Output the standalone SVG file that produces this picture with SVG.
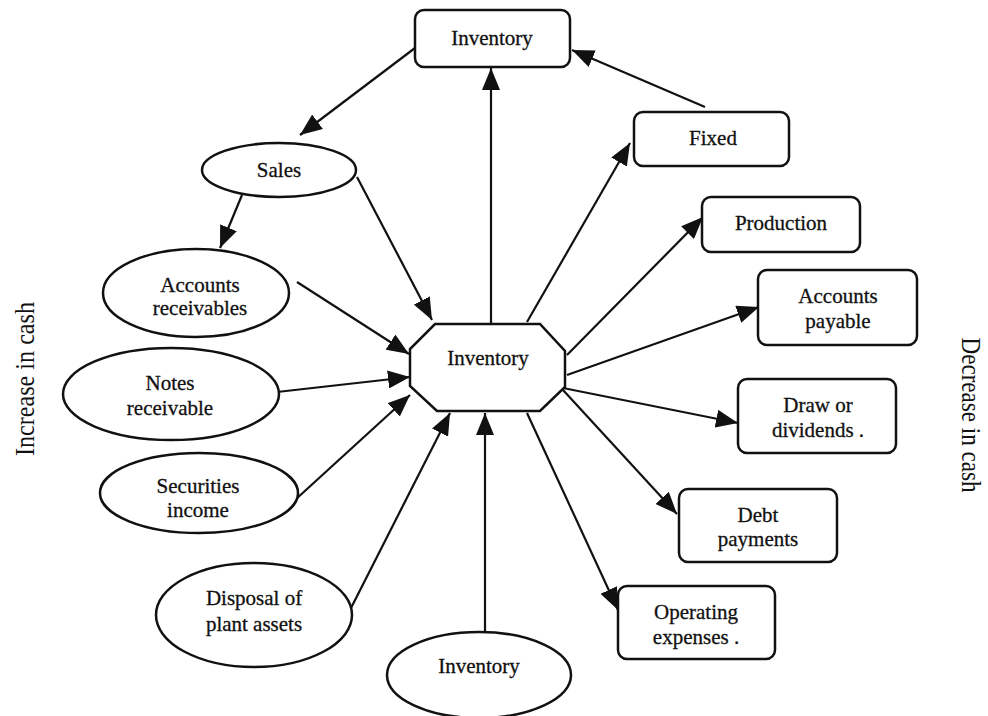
<svg xmlns="http://www.w3.org/2000/svg" width="988" height="716" viewBox="0 0 988 716">
<style>
.box{fill:#fff;stroke:#111;stroke-width:2.5}
.ell{fill:#fff;stroke:#111;stroke-width:2.5}
.t{font-family:"Liberation Serif","Times New Roman",serif;font-size:21px;fill:#111;text-anchor:middle;stroke:#111;stroke-width:0.3}
.side{font-family:"Liberation Serif","Times New Roman",serif;font-size:27px;fill:#111;text-anchor:middle}
.c line{stroke:#111;stroke-width:2.2;marker-end:url(#ah)}
</style>
<defs>
<marker id="ah" viewBox="0 0 22 18" refX="22" refY="9" markerWidth="22" markerHeight="18" markerUnits="userSpaceOnUse" orient="auto">
<path d="M0,0 L22,9 L0,18 z" fill="#111"/>
</marker>
</defs>
<rect width="988" height="716" fill="#fff"/>
<g class="c" id="connectors">
<line x1="415" y1="48" x2="300" y2="135"/>
<line x1="491" y1="324" x2="491" y2="68"/>
<line x1="705" y1="107" x2="572" y2="50"/>
<line x1="527" y1="322" x2="630" y2="143"/>
<line x1="242" y1="195" x2="220" y2="248"/>
<line x1="357" y1="177" x2="432" y2="320"/>
<line x1="297" y1="282" x2="409" y2="354"/>
<line x1="277" y1="392" x2="410" y2="377"/>
<line x1="295" y1="500" x2="410" y2="395"/>
<line x1="350" y1="610" x2="450" y2="413"/>
<line x1="485" y1="632" x2="485" y2="413"/>
<line x1="567" y1="355" x2="703" y2="217"/>
<line x1="567" y1="375" x2="759" y2="307"/>
<line x1="563" y1="388" x2="738" y2="423"/>
<line x1="563" y1="390" x2="677" y2="514"/>
<line x1="527" y1="413" x2="618" y2="610"/>
</g>
<g id="inv-top"><rect class="box" x="415" y="10" width="155" height="57" rx="9"/><text class="t" x="492" y="45">Inventory</text></g>
<g id="fixed"><rect class="box" x="634" y="112" width="155" height="54" rx="9"/><text class="t" x="713" y="145">Fixed</text></g>
<g id="production"><rect class="box" x="702" y="197" width="158" height="55" rx="9"/><text class="t" x="781" y="230">Production</text></g>
<g id="payable"><rect class="box" x="758" y="270" width="159" height="75" rx="9"/><text class="t" x="838" y="303">Accounts</text><text class="t" x="838" y="328">payable</text></g>
<g id="draw"><rect class="box" x="738" y="379" width="158" height="74" rx="9"/><text class="t" x="818" y="412">Draw or</text><text class="t" x="818" y="437">dividends .</text></g>
<g id="debt"><rect class="box" x="679" y="489" width="158" height="73" rx="9"/><text class="t" x="758" y="522">Debt</text><text class="t" x="758" y="546">payments</text></g>
<g id="opex"><rect class="box" x="618" y="586" width="157" height="73" rx="9"/><text class="t" x="696" y="619">Operating</text><text class="t" x="696" y="644">expenses .</text></g>
<g id="center"><polygon class="box" points="435,324 540,324 565,351 565,387 540,411 437,411 410,386 410,349"/><text class="t" x="488" y="365">Inventory</text></g>
<g id="sales"><ellipse class="ell" cx="279" cy="170" rx="77" ry="27"/><text class="t" x="279" y="177">Sales</text></g>
<g id="ar"><ellipse class="ell" cx="196" cy="293" rx="93" ry="44"/><text class="t" x="200" y="292">Accounts</text><text class="t" x="200" y="315">receivables</text></g>
<g id="notes"><ellipse class="ell" cx="171" cy="394" rx="108" ry="46"/><text class="t" x="170" y="390">Notes</text><text class="t" x="170" y="415">receivable</text></g>
<g id="securities"><ellipse class="ell" cx="199" cy="493" rx="99" ry="40"/><text class="t" x="198" y="493">Securities</text><text class="t" x="198" y="517">income</text></g>
<g id="disposal"><ellipse class="ell" cx="254" cy="615" rx="98" ry="52"/><text class="t" x="254" y="605">Disposal of</text><text class="t" x="254" y="631">plant assets</text></g>
<g id="inv-bottom"><ellipse class="ell" cx="479" cy="675" rx="92" ry="43"/><text class="t" x="479" y="673">Inventory</text></g>
<g id="side-left"><text class="side" transform="translate(34,379) rotate(-90)" textLength="154" lengthAdjust="spacingAndGlyphs">Increase in cash</text></g>
<g id="side-right"><text class="side" transform="translate(962,415) rotate(90)" textLength="155" lengthAdjust="spacingAndGlyphs">Decrease in cash</text></g>
</svg>
